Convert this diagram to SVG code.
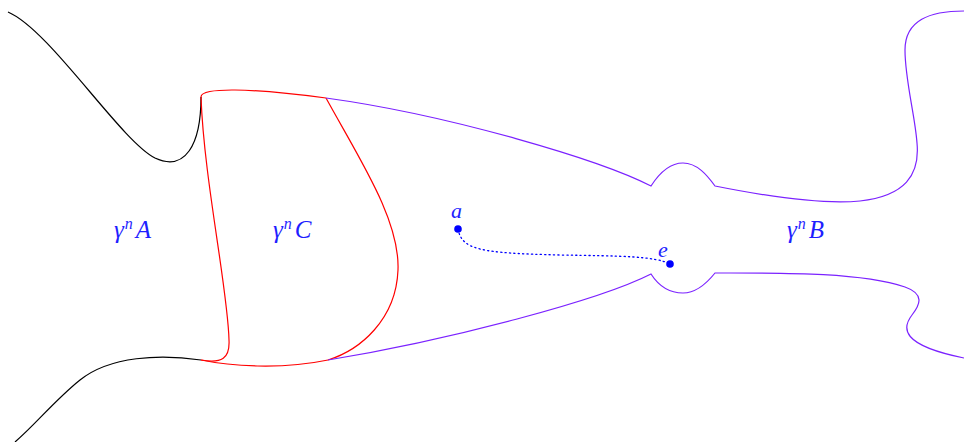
<svg xmlns="http://www.w3.org/2000/svg" width="964" height="442" viewBox="0 0 964 442">
<style>
.k{fill:none;stroke:#000;stroke-width:1.2}
.r{fill:none;stroke:#ff0000;stroke-width:1.2}
.v{fill:none;stroke:#7b22ff;stroke-width:1.2}
.d{fill:none;stroke:#0000ff;stroke-width:1.3;stroke-dasharray:1.2 3.2;stroke-linecap:round}
.t{font-family:"Liberation Serif",serif;font-style:italic;font-size:25px;fill:#1f1fff}
.s{font-size:16px}
.p{fill:#0000ff}
</style>
<g id="connectors">
<path class="k" d="M 8 12 C 50 30, 120 140, 155 158 C 185 172, 201 145, 201 97"/>
<path class="k" d="M 201 360 C 160 354, 110 356, 80 380 C 55 400, 35 425, 15 442"/>
<path class="r" d="M 201 97 C 201 87, 250 88, 326 98"/>
<path class="r" d="M 201 97 C 204 180, 228 290, 229 340 C 230 358, 222 364, 201 360"/>
<path class="r" d="M 201 360 C 230 366, 280 370, 328 360"/>
<path class="r" d="M 326 98 C 360 160, 400 220, 398 270 C 396 320, 360 350, 328 360"/>
<path class="v" d="M 326 98 C 450 115, 600 160, 651 186 C 660 172, 670 163, 683 163 C 697 163, 707 175, 715 186 C 760 195, 820 205, 860 201 C 905 196, 920 175, 917 143 C 915 115, 905 80, 905 50 C 905 20, 930 11, 964 11"/>
<path class="v" d="M 328 360 C 450 340, 600 300, 651 274 C 660 288, 670 293, 683 293 C 697 293, 707 283, 715 273 C 780 273, 860 272, 905 287 C 925 294, 920 305, 912 315 C 902 328, 900 345, 964 358"/>
<path class="d" d="M 458 229 C 462 250, 480 253, 560 255 C 620 256, 655 256, 670 264"/>
</g>
<g id="A"><text class="t" x="114" y="238">γ<tspan class="s" dx="1" dy="-9">n</tspan><tspan dx="3" dy="9">A</tspan></text></g>
<g id="C"><text class="t" x="273" y="238">γ<tspan class="s" dx="1" dy="-9">n</tspan><tspan dx="3" dy="9">C</tspan></text></g>
<g id="B"><text class="t" x="787" y="238">γ<tspan class="s" dx="1" dy="-9">n</tspan><tspan dx="3" dy="9">B</tspan></text></g>
<g id="a"><circle class="p" cx="458" cy="229" r="3.8"/><text class="t" x="451" y="218" style="font-size:22px">a</text></g>
<g id="e"><circle class="p" cx="670" cy="264" r="3.8"/><text class="t" x="658" y="257" style="font-size:22px">e</text></g>
</svg>
